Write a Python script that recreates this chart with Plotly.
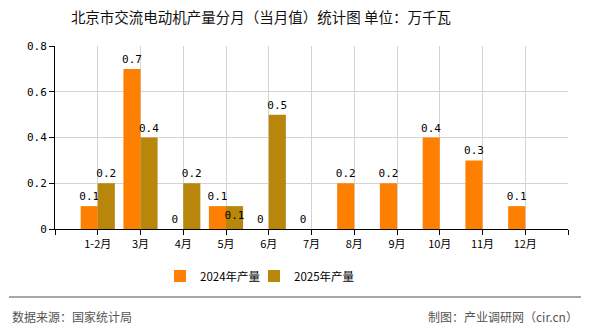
import plotly.graph_objects as go

categories = ["1-2月", "3月", "4月", "5月", "6月", "7月", "8月", "9月", "10月", "11月", "12月"]
values_2024 = [0.1, 0.7, 0, 0.1, 0, 0, 0.2, 0.2, 0.4, 0.3, 0.1]
values_2025 = [0.2, 0.4, 0.2, 0.1, 0.5, None, None, None, None, None, None]
text_pos_2025 = ["outside", "outside", "outside", "inside", "outside"] + ["outside"] * 6
y_ticks = [0, 0.2, 0.4, 0.6, 0.8]
y_tick_labels = ["0", "0.2", "0.4", "0.6", "0.8"]

W, H = 590, 330
L, R, T, B = 55, 568, 46, 229
pw, ph = R - L, B - T

def px_x(x):
    return (x - L) / pw

def px_y(y):
    return (B - y) / ph

cjk = "Noto Sans CJK SC"
mono = "DejaVu Sans Mono"

xs = list(range(len(categories)))

def fmt(v):
    if v is None:
        return None
    return "0" if v == 0 else f"{v:g}"

fig = go.Figure()
fig.add_trace(go.Bar(
    x=xs, y=values_2024, name="2024年产量", marker=dict(color="#FF8000", line=dict(width=0)),
    text=[fmt(v) for v in values_2024], textposition="outside",
    textfont=dict(family=mono, size=11, color="#000"), cliponaxis=False,
    legend="legend",
))
fig.add_trace(go.Bar(
    x=xs, y=values_2025, name="2025年产量", marker=dict(color="#B8860B", line=dict(width=0)),
    text=[fmt(v) for v in values_2025], textposition=text_pos_2025,
    insidetextanchor="end", textangle=0,
    textfont=dict(family=mono, size=11, color="#000"), cliponaxis=False,
    legend="legend2",
))

tickvals = [-1] + xs + [len(categories)]
ticktext = [""] + categories + [""]

legend_common = dict(orientation="h", xanchor="left", y=px_y(276), yanchor="middle",
                     font=dict(family=cjk, size=11.5, color="#000"), itemwidth=30,
                     bgcolor="rgba(0,0,0,0)")

fig.update_layout(
    width=W, height=H,
    margin=dict(l=L, r=W - R, t=T, b=H - B),
    paper_bgcolor="white", plot_bgcolor="white",
    barmode="group", bargap=0.2, bargroupgap=0,
    uniformtext=dict(mode="show", minsize=11),
    title=dict(text="北京市交流电动机产量分月（当月值）统计图 单位：万千瓦",
               x=261 / W, xanchor="center", y=1 - 18 / H, yanchor="middle",
               font=dict(family=cjk, size=14.5, color="#111")),
    xaxis=dict(range=[-1, len(categories)], tickvals=tickvals, ticktext=ticktext,
               showgrid=True, gridcolor="#d3d3d3", gridwidth=1,
               showline=True, linecolor="#000", linewidth=1,
               ticks="outside", ticklen=5, tickcolor="#000",
               tickfont=dict(family=cjk, size=11, color="#000"), zeroline=False),
    yaxis=dict(range=[0, 0.8], tickvals=y_ticks, ticktext=y_tick_labels,
               showgrid=True, gridcolor="#d3d3d3", gridwidth=1,
               showline=True, linecolor="#000", linewidth=1,
               ticks="outside", ticklen=5, tickcolor="#000",
               tickfont=dict(family=mono, size=11, color="#000"), zeroline=False),
    legend=dict(x=px_x(160), **legend_common),
    legend2=dict(x=px_x(254), **legend_common),
    showlegend=True,
)

fig.add_shape(type="line", xref="paper", yref="paper",
              x0=px_x(9), x1=px_x(581), y0=px_y(297), y1=px_y(297),
              line=dict(color="#888", width=1.5))
fig.add_annotation(text="数据来源：国家统计局", xref="paper", yref="paper",
                   x=px_x(10), xanchor="left", y=px_y(316), yanchor="middle",
                   showarrow=False, font=dict(family=cjk, size=12, color="#555"))
fig.add_annotation(text="制图：产业调研网（cir.cn）", xref="paper", yref="paper",
                   x=px_x(580), xanchor="right", y=px_y(316), yanchor="middle",
                   showarrow=False, font=dict(family=cjk, size=12, color="#555"))

fig.write_html("out.html")
